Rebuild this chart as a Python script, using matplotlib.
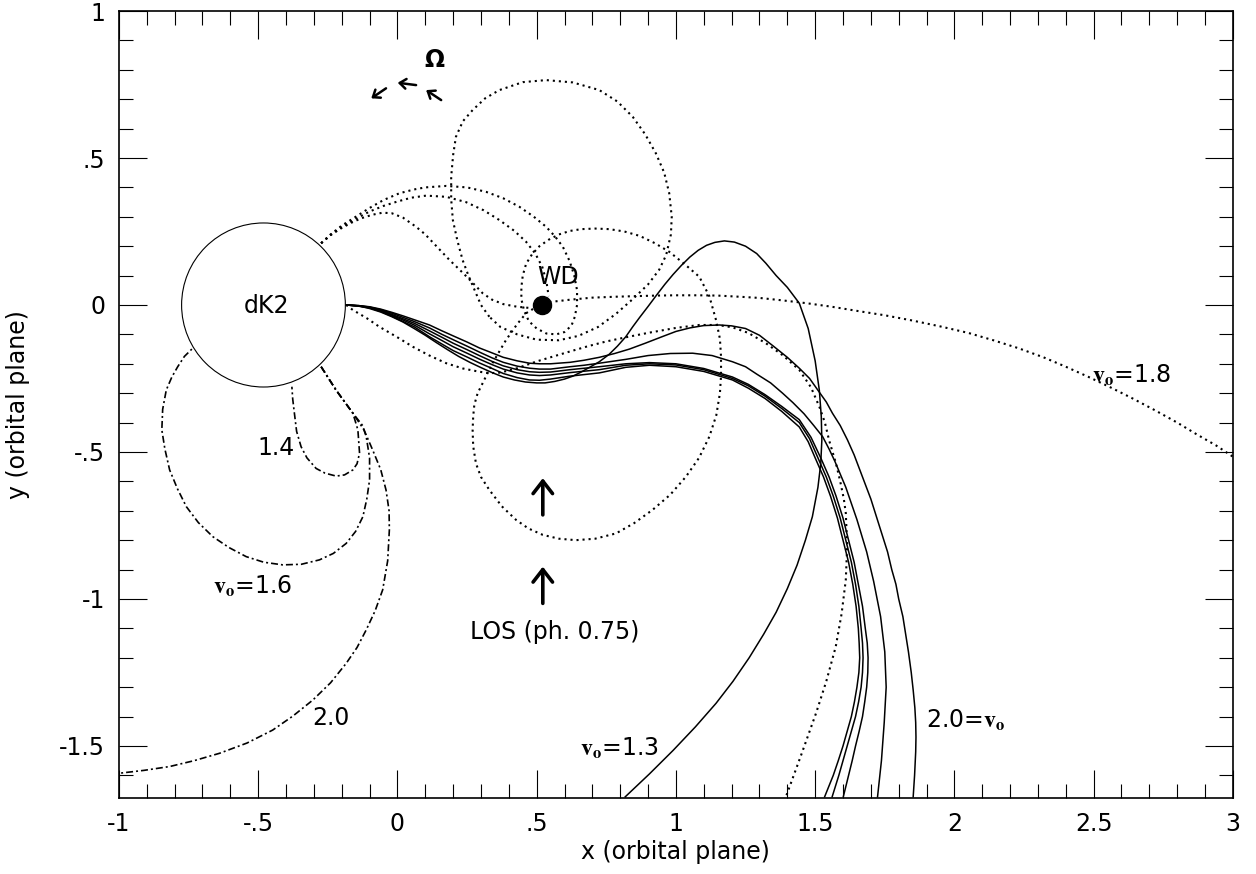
import matplotlib
matplotlib.use("Agg")
import matplotlib.pyplot as plt
from matplotlib.patches import Ellipse
from matplotlib.ticker import MultipleLocator, FuncFormatter

plt.rcParams['font.family'] = ['DejaVu Sans']
plt.rcParams['mathtext.fontset'] = 'stix'

# ---- data, (x, y) in the orbital plane ----
# solid: trajectories launched from L1
s13 = [(-0.184, 0.0), (-0.14, -0.003), (-0.10, -0.012), (-0.06, -0.024), (-0.02, -0.04), (0.02, -0.058),
       (0.06, -0.08), (0.10, -0.103), (0.14, -0.128), (0.18, -0.152), (0.22, -0.175), (0.26, -0.195),
       (0.30, -0.213), (0.34, -0.23), (0.38, -0.245), (0.42, -0.255), (0.46, -0.262), (0.50, -0.265),
       (0.53, -0.265), (0.565, -0.26), (0.60, -0.252), (0.63, -0.242), (0.66, -0.228), (0.69, -0.212),
       (0.725, -0.193), (0.76, -0.168), (0.79, -0.14), (0.82, -0.108), (0.845, -0.074), (0.87, -0.042),
       (0.90, -0.005), (0.93, 0.033), (0.96, 0.07), (0.99, 0.104), (1.02, 0.135), (1.05, 0.163), (1.08, 0.186),
       (1.11, 0.203), (1.14, 0.213), (1.174, 0.218), (1.21, 0.214), (1.25, 0.2), (1.29, 0.175), (1.323, 0.142),
       (1.36, 0.1), (1.40, 0.06), (1.443, 0.006), (1.475, -0.08), (1.50, -0.19), (1.515, -0.29), (1.522, -0.38),
       (1.524, -0.46), (1.52, -0.54), (1.51, -0.62), (1.49, -0.72), (1.465, -0.8), (1.435, -0.885),
       (1.40, -0.965), (1.36, -1.045), (1.315, -1.12), (1.263, -1.2), (1.205, -1.28), (1.144, -1.355),
       (1.07, -1.435), (0.99, -1.515), (0.905, -1.595), (0.818, -1.673)]

s20 = [(-0.184, 0.0), (-0.14, -0.002), (-0.10, -0.006), (-0.06, -0.014), (-0.02, -0.025), (0.02, -0.037),
       (0.06, -0.05), (0.115, -0.068), (0.16, -0.088), (0.20, -0.105), (0.25, -0.126), (0.294, -0.146),
       (0.34, -0.163), (0.38, -0.178), (0.43, -0.19), (0.474, -0.198), (0.51, -0.2), (0.55, -0.2),
       (0.62, -0.195), (0.67, -0.188), (0.725, -0.178), (0.78, -0.165), (0.833, -0.15), (0.89, -0.13),
       (0.95, -0.108), (1.0, -0.09), (1.05, -0.078), (1.10, -0.07), (1.156, -0.068), (1.2, -0.071),
       (1.25, -0.08), (1.30, -0.103), (1.35, -0.14), (1.40, -0.178), (1.443, -0.215), (1.48, -0.25),
       (1.51, -0.29), (1.54, -0.33), (1.562, -0.368), (1.59, -0.41), (1.616, -0.459), (1.64, -0.51),
       (1.66, -0.56), (1.68, -0.61), (1.70, -0.66), (1.72, -0.72), (1.74, -0.78), (1.76, -0.84), (1.775, -0.9),
       (1.79, -0.95), (1.80, -1.0), (1.815, -1.06), (1.825, -1.12), (1.835, -1.18), (1.845, -1.25),
       (1.852, -1.31), (1.858, -1.37), (1.861, -1.42), (1.862, -1.47), (1.861, -1.52), (1.857, -1.6),
       (1.852, -1.673)]

s18 = [(-0.184, 0.0), (-0.14, -0.002), (-0.10, -0.007), (-0.06, -0.016), (-0.02, -0.028), (0.02, -0.042),
       (0.06, -0.056), (0.115, -0.078), (0.16, -0.1), (0.20, -0.118), (0.25, -0.14), (0.294, -0.16),
       (0.34, -0.18), (0.38, -0.195), (0.43, -0.208), (0.474, -0.215), (0.51, -0.218), (0.55, -0.218),
       (0.62, -0.21), (0.67, -0.205), (0.725, -0.198), (0.82, -0.185), (0.9, -0.172), (0.98, -0.165),
       (1.06, -0.164), (1.13, -0.172), (1.203, -0.193), (1.25, -0.21), (1.29, -0.235), (1.34, -0.265),
       (1.383, -0.3), (1.42, -0.332), (1.46, -0.37), (1.495, -0.41), (1.527, -0.448), (1.55, -0.49),
       (1.57, -0.53), (1.59, -0.575), (1.61, -0.62), (1.63, -0.675), (1.65, -0.73), (1.685, -0.84),
       (1.71, -0.94), (1.735, -1.06), (1.75, -1.18), (1.755, -1.3), (1.748, -1.42), (1.738, -1.55),
       (1.724, -1.673)]

s16 = [(-0.184, 0.0), (-0.14, -0.003), (-0.10, -0.008), (-0.06, -0.018), (-0.02, -0.032), (0.02, -0.047),
       (0.06, -0.062), (0.115, -0.088), (0.16, -0.11), (0.20, -0.13), (0.25, -0.152), (0.294, -0.172),
       (0.34, -0.192), (0.38, -0.207), (0.43, -0.22), (0.474, -0.227), (0.51, -0.229), (0.55, -0.228),
       (0.62, -0.22), (0.725, -0.21), (0.82, -0.2), (0.905, -0.196), (1.0, -0.2), (1.1, -0.216),
       (1.203, -0.245), (1.26, -0.27), (1.32, -0.305), (1.38, -0.345), (1.443, -0.39), (1.485, -0.45),
       (1.52, -0.52), (1.55, -0.585), (1.575, -0.65), (1.6, -0.725), (1.62, -0.8), (1.64, -0.875),
       (1.655, -0.95), (1.67, -1.025), (1.68, -1.1), (1.687, -1.15), (1.69, -1.2), (1.689, -1.25),
       (1.685, -1.3), (1.678, -1.35), (1.67, -1.4), (1.658, -1.45), (1.645, -1.5), (1.633, -1.55),
       (1.62, -1.6), (1.601, -1.673)]

s15 = [(-0.184, 0.0), (-0.14, -0.003), (-0.10, -0.009), (-0.06, -0.02), (-0.02, -0.035), (0.02, -0.051),
       (0.06, -0.068), (0.115, -0.098), (0.16, -0.121), (0.20, -0.142), (0.25, -0.164), (0.294, -0.184),
       (0.34, -0.203), (0.38, -0.218), (0.43, -0.231), (0.474, -0.238), (0.51, -0.24), (0.55, -0.238),
       (0.62, -0.23), (0.725, -0.22), (0.82, -0.205), (0.905, -0.2), (1.0, -0.204), (1.1, -0.22),
       (1.203, -0.25), (1.26, -0.275), (1.32, -0.31), (1.38, -0.352), (1.443, -0.40), (1.48, -0.455),
       (1.51, -0.52), (1.54, -0.585), (1.565, -0.65), (1.59, -0.725), (1.61, -0.8), (1.63, -0.875),
       (1.645, -0.95), (1.657, -1.025), (1.665, -1.1), (1.67, -1.15), (1.672, -1.2), (1.67, -1.25),
       (1.665, -1.3), (1.656, -1.35), (1.645, -1.4), (1.63, -1.45), (1.615, -1.5), (1.6, -1.55),
       (1.585, -1.6), (1.561, -1.673)]

s14 = [(-0.184, 0.0), (-0.14, -0.004), (-0.10, -0.010), (-0.06, -0.022), (-0.02, -0.038), (0.02, -0.056),
       (0.06, -0.074), (0.115, -0.108), (0.16, -0.133), (0.20, -0.155), (0.25, -0.177), (0.294, -0.197),
       (0.34, -0.216), (0.38, -0.233), (0.43, -0.247), (0.474, -0.255), (0.51, -0.256), (0.55, -0.252),
       (0.62, -0.242), (0.725, -0.231), (0.82, -0.212), (0.905, -0.205), (1.0, -0.21), (1.1, -0.226),
       (1.203, -0.255), (1.26, -0.283), (1.32, -0.318), (1.38, -0.362), (1.443, -0.415), (1.475, -0.465),
       (1.50, -0.52), (1.53, -0.585), (1.555, -0.65), (1.58, -0.725), (1.60, -0.8), (1.62, -0.875),
       (1.635, -0.95), (1.647, -1.025), (1.655, -1.1), (1.658, -1.15), (1.66, -1.2), (1.657, -1.25),
       (1.65, -1.3), (1.641, -1.35), (1.63, -1.4), (1.615, -1.45), (1.60, -1.5), (1.583, -1.55),
       (1.565, -1.6), (1.534, -1.673)]

# dotted trajectories
d_l1 = [(-0.184, 0.0), (-0.16, -0.017), (-0.11, -0.045), (-0.065, -0.074), (0.0, -0.11), (0.055, -0.142),
        (0.115, -0.172), (0.175, -0.198), (0.235, -0.216), (0.294, -0.227), (0.33, -0.232), (0.37, -0.23),
        (0.43, -0.215), (0.5, -0.192), (0.56, -0.175), (0.62, -0.158), (0.685, -0.14), (0.75, -0.124),
        (0.83, -0.108), (0.905, -0.094), (1.0, -0.078), (1.084, -0.068), (1.15, -0.068), (1.203, -0.076),
        (1.26, -0.095), (1.323, -0.13), (1.385, -0.172), (1.443, -0.221), (1.485, -0.28), (1.515, -0.346),
        (1.535, -0.4), (1.55, -0.46), (1.575, -0.54), (1.59, -0.6), (1.603, -0.66), (1.61, -0.708),
        (1.615, -0.82), (1.61, -0.935), (1.595, -1.05), (1.574, -1.162), (1.54, -1.28), (1.503, -1.389),
        (1.45, -1.53), (1.395, -1.673)]

d_big = [(0.33, -0.04), (0.30, 0.0), (0.282, 0.04), (0.255, 0.1), (0.234, 0.153), (0.215, 0.22), (0.199, 0.289),
         (0.193, 0.36), (0.193, 0.436), (0.2, 0.51), (0.21, 0.572), (0.235, 0.625), (0.27, 0.663),
         (0.315, 0.703), (0.366, 0.731), (0.45, 0.758), (0.534, 0.765), (0.63, 0.757), (0.725, 0.731),
         (0.79, 0.692), (0.845, 0.64), (0.89, 0.58), (0.928, 0.516), (0.958, 0.45), (0.976, 0.38), (0.985, 0.3),
         (0.982, 0.24), (0.965, 0.17), (0.94, 0.12), (0.9, 0.07), (0.845, 0.02), (0.785, -0.03), (0.72, -0.075),
         (0.65, -0.105), (0.58, -0.12), (0.5, -0.118), (0.43, -0.1), (0.37, -0.075), (0.33, -0.04)]

d_loop = [(-0.274, 0.21), (-0.24, 0.24), (-0.2, 0.27), (-0.15, 0.3), (-0.1, 0.33), (-0.05, 0.357), (0.007, 0.38),
          (0.06, 0.393), (0.1, 0.4), (0.175, 0.405), (0.25, 0.4), (0.318, 0.385), (0.38, 0.363), (0.438, 0.334),
          (0.49, 0.3), (0.534, 0.266), (0.567, 0.232), (0.594, 0.198), (0.618, 0.15), (0.635, 0.1), (0.645, 0.05),
          (0.645, 0.0), (0.637, -0.04), (0.625, -0.07), (0.6, -0.092), (0.57, -0.1), (0.535, -0.097),
          (0.5, -0.08), (0.472, -0.055), (0.455, -0.02), (0.445, 0.02), (0.445, 0.06), (0.45, 0.1), (0.462, 0.14),
          (0.483, 0.172), (0.51, 0.2), (0.543, 0.222), (0.58, 0.24), (0.62, 0.252), (0.66, 0.258), (0.71, 0.26),
          (0.761, 0.258), (0.815, 0.25), (0.87, 0.235), (0.925, 0.21), (0.976, 0.181), (1.03, 0.14),
          (1.084, 0.096), (1.12, 0.03), (1.144, -0.051), (1.158, -0.115), (1.162, -0.176), (1.162, -0.24),
          (1.158, -0.3), (1.145, -0.375), (1.12, -0.448), (1.083, -0.52), (1.036, -0.584), (0.98, -0.645),
          (0.916, -0.697), (0.85, -0.742), (0.785, -0.777), (0.71, -0.795), (0.641, -0.8), (0.58, -0.795),
          (0.522, -0.782), (0.47, -0.76), (0.426, -0.731), (0.375, -0.685), (0.33, -0.629), (0.3, -0.585),
          (0.282, -0.539), (0.272, -0.48), (0.27, -0.425), (0.272, -0.38), (0.276, -0.34), (0.288, -0.3),
          (0.306, -0.266), (0.34, -0.2), (0.39, -0.119), (0.43, -0.065), (0.462, -0.028), (0.51, 0.0)]

d_arc2 = [(-0.274, 0.21), (-0.24, 0.238), (-0.2, 0.265), (-0.15, 0.293), (-0.1, 0.318), (-0.05, 0.337),
          (0.0, 0.352), (0.05, 0.365), (0.103, 0.372), (0.175, 0.368), (0.246, 0.35), (0.31, 0.322),
          (0.366, 0.289), (0.42, 0.252), (0.462, 0.215), (0.495, 0.175), (0.52, 0.13), (0.535, 0.08), (0.543, 0.03)]

d_arc3 = [(-0.274, 0.21), (-0.24, 0.238), (-0.2, 0.262), (-0.165, 0.28), (-0.13, 0.295), (-0.09, 0.307),
          (-0.053, 0.314), (-0.02, 0.312), (0.02, 0.297), (0.067, 0.266), (0.1, 0.24), (0.13, 0.21),
          (0.16, 0.18), (0.187, 0.153), (0.22, 0.123), (0.25, 0.095), (0.28, 0.066), (0.306, 0.04),
          (0.34, 0.018), (0.38, 0.003), (0.43, -0.006), (0.474, -0.01)]

d18 = [(0.546, 0.01), (0.62, 0.018), (0.70, 0.025), (0.78, 0.028), (0.85, 0.03), (0.93, 0.032), (1.0, 0.033),
       (1.08, 0.033), (1.15, 0.032), (1.23, 0.028), (1.3, 0.024), (1.38, 0.016), (1.47, 0.006), (1.56, -0.006),
       (1.65, -0.02), (1.75, -0.035), (1.85, -0.053), (1.95, -0.073), (2.05, -0.095), (2.14, -0.12),
       (2.23, -0.147), (2.32, -0.178), (2.4, -0.21), (2.48, -0.244), (2.56, -0.28), (2.64, -0.318),
       (2.72, -0.358), (2.8, -0.4), (2.87, -0.44), (2.94, -0.478), (3.0, -0.516)]

# dash-dot trajectories from the lower side of dK2
dd14 = [(-0.274, -0.21), (-0.22, -0.29), (-0.16, -0.368), (-0.142, -0.425), (-0.136, -0.504), (-0.145, -0.54),
        (-0.16, -0.561), (-0.19, -0.578), (-0.22, -0.582), (-0.26, -0.572), (-0.292, -0.556), (-0.325, -0.52),
        (-0.346, -0.482), (-0.362, -0.43), (-0.37, -0.368), (-0.376, -0.32), (-0.379, -0.278)]

dd16 = [(-0.274, -0.21), (-0.22, -0.29), (-0.16, -0.368), (-0.125, -0.41), (-0.112, -0.448), (-0.1, -0.52),
        (-0.1, -0.595), (-0.11, -0.66), (-0.124, -0.72), (-0.15, -0.77), (-0.184, -0.811), (-0.23, -0.845),
        (-0.28, -0.867), (-0.345, -0.882), (-0.412, -0.884), (-0.48, -0.875), (-0.543, -0.856), (-0.605, -0.825),
        (-0.663, -0.788), (-0.715, -0.74), (-0.758, -0.686), (-0.79, -0.625), (-0.818, -0.561), (-0.835, -0.49),
        (-0.846, -0.425), (-0.843, -0.355), (-0.83, -0.289), (-0.81, -0.245), (-0.789, -0.21), (-0.765, -0.175),
        (-0.735, -0.147)]

dd20 = [(-0.274, -0.21), (-0.22, -0.29), (-0.16, -0.368), (-0.12, -0.425), (-0.089, -0.493), (-0.06, -0.56),
        (-0.041, -0.629), (-0.03, -0.7), (-0.029, -0.765), (-0.035, -0.87), (-0.053, -0.969), (-0.08, -1.04),
        (-0.112, -1.105), (-0.145, -1.165), (-0.184, -1.219), (-0.24, -1.285), (-0.304, -1.344), (-0.375, -1.398),
        (-0.448, -1.446), (-0.54, -1.49), (-0.639, -1.525), (-0.73, -1.55), (-0.818, -1.57), (-0.91, -1.583),
        (-1.0, -1.593)]

dk2_center = (-0.481, 0.0)
wd_pos = (0.52, 0.0)

solid = [s13, s20, s18, s16, s15, s14]
dotted = [d_l1, d_big, d_loop, d_arc2, d_arc3, d18]
dashdot = [dd14, dd16, dd20]

fig = plt.figure(figsize=(12.56, 8.74), dpi=100)
ax = fig.add_axes([0.0947, 0.0873, 0.8869, 0.9001])

for pts in solid:
    xs, ys = zip(*pts)
    ax.plot(xs, ys, color='black', lw=1.1, solid_joinstyle='round')
for pts in dotted:
    xs, ys = zip(*pts)
    ax.plot(xs, ys, color='black', lw=1.5, linestyle=(0, (1.0, 1.9)))
for pts in dashdot:
    xs, ys = zip(*pts)
    ax.plot(xs, ys, color='black', lw=1.2, linestyle=(0, (4.2, 1.8, 1.2, 1.8)))

# the K dwarf and the white dwarf
ax.add_patch(Ellipse(dk2_center, 2 * 0.294, 2 * 0.279, facecolor='white', edgecolor='black', lw=0.8, zorder=3))
ax.plot([wd_pos[0]], [wd_pos[1]], 'o', color='black', ms=13, zorder=4)

fs = 17
ax.text(-0.47, -0.005, 'dK2', fontsize=fs, ha='center', va='center', zorder=5)
ax.text(0.575, 0.096, 'WD', fontsize=fs, ha='center', va='center')
ax.text(-0.435, -0.488, '1.4', fontsize=fs, ha='center', va='center')
ax.text(-0.52, -0.958, r'$\mathbf{v_o}$=1.6', fontsize=fs, ha='center', va='center')
ax.text(-0.238, -1.406, '2.0', fontsize=fs, ha='center', va='center')
ax.text(0.797, -1.508, r'$\mathbf{v_o}$=1.3', fontsize=fs, ha='center', va='center')
ax.text(2.041, -1.412, r'2.0=$\mathbf{v_o}$', fontsize=fs, ha='center', va='center')
ax.text(2.637, -0.238, r'$\mathbf{v_o}$=1.8', fontsize=fs, ha='center', va='center')
ax.text(0.564, -1.111, 'LOS (ph. 0.75)', fontsize=fs, ha='center', va='center')
ax.text(0.133, 0.833, 'Ω', fontsize=17, fontweight='bold', ha='center', va='center')

# line-of-sight arrows
for y0, y1 in [(-0.714, -0.589), (-1.015, -0.89)]:
    ax.annotate('', xy=(0.522, y1), xytext=(0.522, y0),
                arrowprops=dict(arrowstyle='->, head_length=0.9, head_width=0.7', lw=2.6, color='black',
                                shrinkA=0, shrinkB=0))
# rotation arrows
for tail, head in [((-0.041, 0.737), (-0.094, 0.703)), ((0.067, 0.748), (0.001, 0.756)),
                   ((0.157, 0.697), (0.103, 0.731))]:
    ax.annotate('', xy=head, xytext=tail,
                arrowprops=dict(arrowstyle='->, head_length=0.45, head_width=0.35', lw=1.8, color='black',
                                shrinkA=0, shrinkB=0))

ax.set_xlim(-1, 3)
ax.set_ylim(-1.676, 1.0)


def short(v, pos):
    s = f'{v:g}'
    if s.startswith('0.'):
        s = s[1:]
    elif s.startswith('-0.'):
        s = '-' + s[2:]
    return s


ax.xaxis.set_major_locator(MultipleLocator(0.5))
ax.xaxis.set_minor_locator(MultipleLocator(0.1))
ax.yaxis.set_major_locator(MultipleLocator(0.5))
ax.yaxis.set_minor_locator(MultipleLocator(0.1))
ax.xaxis.set_major_formatter(FuncFormatter(short))
ax.yaxis.set_major_formatter(FuncFormatter(short))
ax.tick_params(which='both', direction='in', top=True, right=True, width=0.8, labelsize=fs)
ax.tick_params(which='major', length=20)
ax.tick_params(which='minor', length=10)
ax.tick_params(axis='x', pad=10)
ax.tick_params(axis='y', pad=10)
for sp in ax.spines.values():
    sp.set_linewidth(1.2)

ax.set_xlabel('x (orbital plane)', fontsize=fs)
ax.set_ylabel('y (orbital plane)', fontsize=fs)
ax.xaxis.set_label_coords(0.5, -0.054)
ax.yaxis.set_label_coords(-0.08, 0.5)

fig.savefig('out.png', dpi=100)
